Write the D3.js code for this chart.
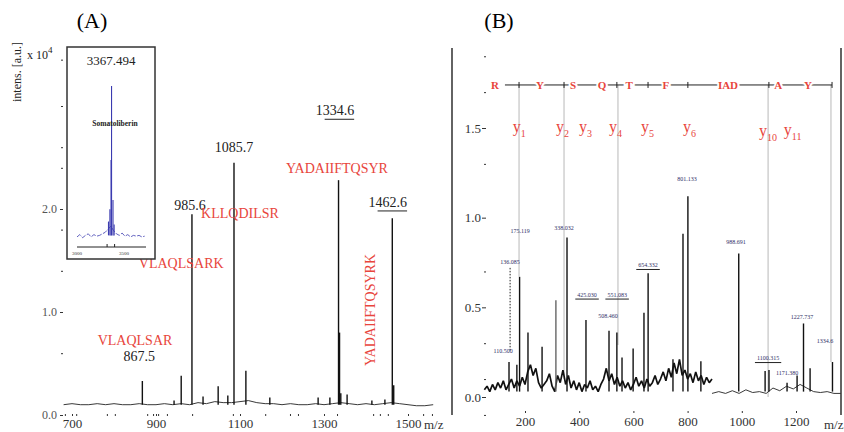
<!DOCTYPE html>
<html>
<head>
<meta charset="utf-8">
<script src="https://cdn.jsdelivr.net/npm/d3@7"></script>
<style>
  body { margin: 0; background: #fff; }
</style>
</head>
<body>
<div id="chart"></div>
<script>

// ---------- panel A data (intensity in x10^4 a.u.) ----------
const tickMzA = [700, 900, 1100, 1300, 1500];
const minorMzA = [683, 710, 783, 802, 879, 893, 905, 926, 986, 1083, 1160, 1219, 1238, 1331, 1417, 1433, 1452, 1536, 1557];
const tickIntA = [0, 1, 2];
const minorIntA = [0.6, 1.4, 1.8, 2.4, 2.6, 3.0, 3.45];

const baseMzA = d3.range(680, 1561, 20);
const baseIntA = [0.10, 0.11, 0.10, 0.10, 0.11, 0.10, 0.11, 0.10, 0.10, 0.11,
                  0.10, 0.10, 0.11, 0.10, 0.11, 0.10, 0.12, 0.11, 0.13, 0.12,
                  0.12, 0.13, 0.14, 0.12, 0.11, 0.11, 0.10, 0.11, 0.10, 0.10,
                  0.11, 0.10, 0.11, 0.12, 0.11, 0.10, 0.11, 0.10, 0.11, 0.12,
                  0.11, 0.10, 0.09, 0.09, 0.10];

const peakMzA = [867.5, 943, 960, 985.6, 1012, 1048, 1071, 1085.7, 1114, 1171, 1286, 1314, 1334.6, 1337, 1340, 1355, 1414, 1445, 1462.6, 1466];
const peakIntA = [0.33, 0.14, 0.38, 1.95, 0.18, 0.28, 0.19, 2.45, 0.43, 0.17, 0.17, 0.17, 2.28, 0.80, 0.21, 0.20, 0.14, 0.15, 1.91, 0.29];

const massTextA = ["985.6", "1085.7", "1334.6", "1462.6", "867.5"];
const massMzA = [981, 1086, 1326, 1452, 860];
const massIntA = [1.99, 2.55, 2.91, 2.02, 0.52];
const massUnderlineA = [false, false, true, true, false];

const peptideTextA = ["KLLQDILSR", "VLAQLSARK", "VLAQLSAR", "YADAIIFTQSYR"];
const peptideMzA = [1100, 960, 850, 1331];
const peptideIntA = [1.91, 1.43, 0.68, 2.35];
const verticalPeptideA = { text: "YADAIIFTQSYRK", mz: 1421, int: 1.02 };

// inset: intact protein
const insetTickMz = [3000, 3500];
const insetMinorMz = [3320, 3400];
const insetNoiseMz = d3.range(3000, 3721, 30);
const insetNoiseInt = [0.02, 0.035, 0.015, 0.03, 0.04, 0.02, 0.035, 0.025, 0.03, 0.04,
                       0.05, 0.07, 0.09, 0.06, 0.04, 0.03, 0.045, 0.025, 0.035, 0.02,
                       0.03, 0.025, 0.03, 0.02, 0.025];
const insetPeakMz = [3335, 3350, 3362, 3367.5, 3383, 3395];
const insetPeakInt = [0.12, 0.2, 0.52, 1.0, 0.26, 0.1];

// ---------- panel B data (MS/MS of YADAIIFTQSYR) ----------
const tickMzB = [200, 400, 600, 800, 1000, 1200];
const tickIntB = [0, 0.5, 1.0, 1.5];
const minorIntB = [-0.1, 0.1, 0.3, 0.7, 1.3, 1.7, 1.9];

const noiseLeftMzB = d3.range(50, 891, 10);
const noiseLeftIntB = [0.04, 0.06, 0.03, 0.07, 0.04, 0.08, 0.05, 0.09, 0.04, 0.07,
                       0.10, 0.05, 0.09, 0.06, 0.11, 0.07, 0.14, 0.18, 0.12, 0.16,
                       0.08, 0.05, 0.07, 0.09, 0.13, 0.06, 0.03, 0.12, 0.08, 0.15,
                       0.07, 0.12, 0.05, 0.09, 0.04, 0.08, 0.03, 0.07, 0.05, 0.09,
                       0.04, 0.06, 0.03, 0.07, 0.10, 0.16, 0.09, 0.13, 0.07, 0.11,
                       0.06, 0.09, 0.05, 0.08, 0.04, 0.07, 0.11, 0.06, 0.09, 0.05,
                       0.10, 0.06, 0.08, 0.12, 0.07, 0.10, 0.14, 0.09, 0.16, 0.11,
                       0.19, 0.13, 0.21, 0.12, 0.15, 0.10, 0.13, 0.08, 0.14, 0.09,
                       0.12, 0.07, 0.11, 0.08, 0.10];
const noiseRightMzB = d3.range(890, 1366, 25);
const noiseRightIntB = [0.02, 0.03, 0.02, 0.035, 0.02, 0.04, 0.025, 0.03, 0.02, 0.05,
                        0.035, 0.06, 0.045, 0.07, 0.05, 0.03, 0.025, 0.03, 0.02, 0.02];

const peakMzB = [141, 170, 180, 211, 263, 355, 425, 510, 539, 558, 599, 639, 654.3, 746, 783, 801.1, 849, 988.7, 1086, 1100.3, 1167, 1204, 1227.7, 1252, 1334.6];
const peakIntB = [0.195, 0.18, 0.67, 0.36, 0.28, 0.89, 0.43, 0.37, 0.36, 0.22, 0.27, 0.47, 0.69, 0.21, 0.91, 1.12, 0.20, 0.80, 0.145, 0.15, 0.08, 0.12, 0.41, 0.16, 0.195];
const greyPeakMzB = [314];
const greyPeakIntB = [0.54];

// sequence ladder
const seqLetters = ["R", "Y", "S", "Q", "T", "F", "IAD", "A", "Y"];
const seqMz = [89, 255, 377, 484, 584, 720, 949, 1134, 1244];
const seqTickMz = [178, 344, 539, 654, 801, 1100, 1333];
const seqRange = [126, 1333];
const seqInt = 1.74;

// fragment guide lines: m/z and the intensity where they stop
const guideMz = [178, 344, 543, 1097, 1329];
const guideEndInt = [0.67, 0.10, 0.29, 0.0, 0.195];

// y-ion labels
const ionNames = ["1", "2", "3", "4", "5", "6", "10", "11"];
const ionMz = [170, 329, 414, 525, 643, 798, 1078, 1170];
const ionInt = [1.48, 1.48, 1.475, 1.48, 1.475, 1.48, 1.455, 1.46];

// small mass annotations
const annText = ["136.085", "110.500", "175.119", "338.032", "425.030", "551.083", "508.460", "654.332", "801.133", "988.691", "1100.315", "1171.380", "1227.737", "1334.6"];
const annMz = [145, 119, 182, 344, 429, 540, 506, 654, 798, 979, 1097, 1167, 1222, 1307];
const annInt = [0.74, 0.245, 0.915, 0.93, 0.56, 0.56, 0.44, 0.725, 1.205, 0.853, 0.206, 0.123, 0.435, 0.30];
const annUnderline = [false, false, false, false, true, true, false, true, false, false, true, false, false, false];
const dottedMz = 145;
const dottedInt = [0.72, 0.26];

// ---------- styles ----------
const serif = "'Liberation Serif', 'DejaVu Serif', serif";
const red = "#e8453c";

// svg container
const svg = d3.select("#chart")
    .append("svg")
    .attr("width", 844)
    .attr("height", 432)
    .style("font-family", serif);

// strip the axis line and restyle the ticks
function styleAxis(g, size, color) {
    g.select(".domain").remove();
    g.attr("font-family", serif).attr("font-size", size);
    g.selectAll(".tick line").attr("stroke", "#333");
    g.selectAll(".tick text").attr("fill", color);
}

// =================== panel A ===================
const xA = d3.scaleLinear().domain([700, 1500]).range([72, 408]);
const yA = d3.scaleLinear().domain([0, 3]).range([415, 106]);
const baseA = 0.1;

const gA = svg.append("g").attr("id", "panelA");

gA.append("text")
    .attr("x", 92).attr("y", 28)
    .attr("text-anchor", "middle")
    .attr("font-size", 22)
    .text("(A)");

// y axis
gA.append("g")
    .attr("transform", "translate(63,0)")
    .call(d3.axisLeft(yA).tickValues(tickIntA).tickFormat(d3.format(".1f")).tickSize(3).tickPadding(3))
    .call(styleAxis, 12, "#555");

gA.append("g")
    .attr("transform", "translate(63,0)")
    .call(d3.axisLeft(yA).tickValues(minorIntA).tickFormat("").tickSize(2))
    .call(styleAxis, 12, "#555");

// x axis
gA.append("g")
    .attr("transform", "translate(0,414)")
    .call(d3.axisBottom(xA).tickValues(tickMzA).tickFormat(d3.format("d")).tickSize(2).tickPadding(3))
    .call(styleAxis, 13, "#333");

gA.append("g")
    .attr("transform", "translate(0,414)")
    .call(d3.axisBottom(xA).tickValues(minorMzA).tickFormat("").tickSize(2))
    .call(styleAxis, 13, "#333");

gA.append("text")
    .attr("x", 424).attr("y", 429)
    .attr("font-size", 13)
    .attr("fill", "#333")
    .text("m/z");

// axis title
gA.append("text")
    .attr("transform", "translate(21,72) rotate(-90)")
    .attr("text-anchor", "middle")
    .attr("font-size", 12)
    .attr("fill", "#222")
    .text("intens. [a.u.]");

const expo = gA.append("text")
    .attr("x", 27).attr("y", 59)
    .attr("font-size", 12)
    .attr("fill", "#222")
    .text("x 10");
expo.append("tspan").attr("dy", -6).attr("font-size", 9).text("4");

// baseline
gA.append("path")
    .datum(d3.zip(baseMzA, baseIntA))
    .attr("fill", "none")
    .attr("stroke", "#222")
    .attr("stroke-width", 0.9)
    .attr("d", d3.line().x(d => xA(d[0])).y(d => yA(d[1])));

// peaks
gA.selectAll(".peakA")
    .data(d3.zip(peakMzA, peakIntA))
    .join("line")
    .attr("class", "peakA")
    .attr("x1", d => xA(d[0])).attr("x2", d => xA(d[0]))
    .attr("y1", yA(baseA)).attr("y2", d => yA(d[1]))
    .attr("stroke", "#111")
    .attr("stroke-width", 1.4);

// mass labels
gA.selectAll(".massA")
    .data(d3.zip(massTextA, massMzA, massIntA, massUnderlineA))
    .join("text")
    .attr("class", "massA")
    .attr("x", d => xA(d[1])).attr("y", d => yA(d[2]))
    .attr("text-anchor", "middle")
    .attr("font-size", 14)
    .attr("fill", "#222")
    .text(d => d[0])
    .each(function(d) {
        if (!d[3]) return;
        const b = this.getBBox();
        gA.append("line")
            .attr("x1", b.x + 9).attr("x2", b.x + b.width)
            .attr("y1", b.y + b.height + 1).attr("y2", b.y + b.height + 1)
            .attr("stroke", "#222").attr("stroke-width", 1);
    });

// peptide labels
gA.selectAll(".pepA")
    .data(d3.zip(peptideTextA, peptideMzA, peptideIntA))
    .join("text")
    .attr("class", "pepA")
    .attr("x", d => xA(d[1])).attr("y", d => yA(d[2]))
    .attr("text-anchor", "middle")
    .attr("font-size", 14)
    .attr("fill", red)
    .text(d => d[0]);

gA.append("text")
    .attr("transform", `translate(${xA(verticalPeptideA.mz)},${yA(verticalPeptideA.int)}) rotate(-90)`)
    .attr("text-anchor", "middle")
    .attr("font-size", 14)
    .attr("fill", red)
    .text(verticalPeptideA.text);

// inset
const xI = d3.scaleLinear().domain([3000, 3500]).range([77, 124]);
const yI = d3.scaleLinear().domain([0, 1]).range([240, 86]);
const gI = gA.append("g").attr("id", "inset");

gI.append("rect")
    .attr("x", 67).attr("y", 47)
    .attr("width", 88).attr("height", 212)
    .attr("fill", "#fff")
    .attr("stroke", "#333")
    .attr("stroke-width", 1.5);

gI.append("line")
    .attr("x1", 77).attr("x2", 146)
    .attr("y1", 247).attr("y2", 247)
    .attr("stroke", "#222");

gI.selectAll(".itick")
    .data(insetMinorMz)
    .join("line")
    .attr("x1", d => xI(d)).attr("x2", d => xI(d))
    .attr("y1", 244).attr("y2", 247)
    .attr("stroke", "#222");

gI.selectAll(".ilab")
    .data(insetTickMz)
    .join("text")
    .attr("x", d => xI(d)).attr("y", 255)
    .attr("text-anchor", "middle")
    .attr("font-size", 5)
    .attr("fill", "#333")
    .text(d => d);

gI.append("path")
    .datum(d3.zip(insetNoiseMz, insetNoiseInt))
    .attr("fill", "none")
    .attr("stroke", "#3b3bb0")
    .attr("stroke-width", 0.8)
    .attr("stroke-dasharray", "5,1.5")
    .attr("d", d3.line().x(d => xI(d[0])).y(d => yI(d[1])));

gI.selectAll(".ipeak")
    .data(d3.zip(insetPeakMz, insetPeakInt))
    .join("line")
    .attr("x1", d => xI(d[0])).attr("x2", d => xI(d[0]))
    .attr("y1", yI(0.03)).attr("y2", d => yI(d[1]))
    .attr("stroke", "#3b3bb0")
    .attr("stroke-width", 1.1);

gI.append("text")
    .attr("x", 111).attr("y", 65)
    .attr("text-anchor", "middle")
    .attr("font-size", 13)
    .attr("fill", "#222")
    .text("3367.494");

gI.append("text")
    .attr("x", 115).attr("y", 126)
    .attr("text-anchor", "middle")
    .attr("font-size", 7.5)
    .attr("font-weight", "bold")
    .attr("fill", "#222")
    .text("Somatoliberin");

// =================== panel B ===================
const xB = d3.scaleLinear().domain([200, 1200]).range([525, 796]);
const yB = d3.scaleLinear().domain([0, 1.5]).range([397, 128]);
const baseB = 0.03;

const gB = svg.append("g").attr("id", "panelB");

gB.append("text")
    .attr("x", 499).attr("y", 28)
    .attr("text-anchor", "middle")
    .attr("font-size", 22)
    .text("(B)");

// frame sides
gB.selectAll(".side")
    .data([452, 841])
    .join("line")
    .attr("x1", d => d).attr("x2", d => d)
    .attr("y1", 48).attr("y2", 415)
    .attr("stroke", "#222")
    .attr("stroke-width", 1.4);

// y axis
gB.append("g")
    .attr("transform", "translate(486,0)")
    .call(d3.axisLeft(yB).tickValues(tickIntB).tickFormat(d3.format(".1f")).tickSize(4).tickPadding(1))
    .call(styleAxis, 13, "#333");

gB.append("g")
    .attr("transform", "translate(486,0)")
    .call(d3.axisLeft(yB).tickValues(minorIntB).tickFormat("").tickSize(2))
    .call(styleAxis, 13, "#333");

// x axis
gB.append("g")
    .attr("transform", "translate(0,411)")
    .call(d3.axisBottom(xB).tickValues(tickMzB).tickFormat(d3.format("d")).tickSize(2).tickPadding(4))
    .call(styleAxis, 13, "#333");

gB.append("text")
    .attr("x", 824).attr("y", 429)
    .attr("font-size", 13)
    .attr("fill", "#333")
    .text("m/z");

// fragment guide lines
gB.selectAll(".guide")
    .data(d3.zip(guideMz, guideEndInt))
    .join("line")
    .attr("x1", d => xB(d[0])).attr("x2", d => xB(d[0]))
    .attr("y1", yB(seqInt)).attr("y2", d => yB(d[1]))
    .attr("stroke", "#c4c4c4")
    .attr("stroke-width", 1.2);

// noisy baseline as a heavy jagged trace
const lineB = d3.line().x(d => xB(d[0])).y(d => yB(d[1]));
gB.append("path")
    .datum(d3.zip(noiseLeftMzB, noiseLeftIntB))
    .attr("fill", "none")
    .attr("stroke", "#111")
    .attr("stroke-width", 1.7)
    .attr("stroke-linejoin", "bevel")
    .attr("d", lineB);

gB.append("path")
    .datum(d3.zip(noiseRightMzB, noiseRightIntB))
    .attr("fill", "none")
    .attr("stroke", "#222")
    .attr("stroke-width", 0.9)
    .attr("d", lineB);

// peaks
gB.selectAll(".greyPeak")
    .data(d3.zip(greyPeakMzB, greyPeakIntB))
    .join("line")
    .attr("x1", d => xB(d[0])).attr("x2", d => xB(d[0]))
    .attr("y1", yB(baseB)).attr("y2", d => yB(d[1]))
    .attr("stroke", "#666")
    .attr("stroke-width", 1.4);

gB.selectAll(".peakB")
    .data(d3.zip(peakMzB, peakIntB))
    .join("line")
    .attr("class", "peakB")
    .attr("x1", d => xB(d[0])).attr("x2", d => xB(d[0]))
    .attr("y1", yB(baseB)).attr("y2", d => yB(d[1]))
    .attr("stroke", "#111")
    .attr("stroke-width", 1.4);

// dotted connector for the immonium ion
gB.append("line")
    .attr("x1", xB(dottedMz)).attr("x2", xB(dottedMz))
    .attr("y1", yB(dottedInt[0])).attr("y2", yB(dottedInt[1]))
    .attr("stroke", "#222")
    .attr("stroke-dasharray", "1.5,1.5");

// small mass labels
gB.selectAll(".ann")
    .data(d3.zip(annText, annMz, annInt, annUnderline))
    .join("text")
    .attr("class", "ann")
    .attr("x", d => xB(d[1])).attr("y", d => yB(d[2]))
    .attr("text-anchor", "middle")
    .attr("font-size", 6)
    .attr("fill", "#2e2e66")
    .text(d => d[0])
    .each(function(d) {
        if (!d[3]) return;
        const b = this.getBBox();
        gB.append("line")
            .attr("x1", b.x - 2).attr("x2", b.x + b.width + 2)
            .attr("y1", b.y + b.height + 1.5).attr("y2", b.y + b.height + 1.5)
            .attr("stroke", "#222").attr("stroke-width", 1);
    });

// sequence ladder
gB.append("line")
    .attr("x1", xB(seqRange[0])).attr("x2", xB(seqRange[1]))
    .attr("y1", yB(seqInt)).attr("y2", yB(seqInt))
    .attr("stroke", "#222")
    .attr("stroke-width", 1);

gB.selectAll(".seqTick")
    .data(seqTickMz)
    .join("line")
    .attr("x1", d => xB(d)).attr("x2", d => xB(d))
    .attr("y1", yB(seqInt) - 3).attr("y2", yB(seqInt) + 3)
    .attr("stroke", "#222");

gB.selectAll(".seq")
    .data(d3.zip(seqLetters, seqMz))
    .join("text")
    .attr("x", d => xB(d[1])).attr("y", yB(seqInt) + 4)
    .attr("text-anchor", "middle")
    .attr("font-size", 11)
    .attr("font-weight", "bold")
    .attr("fill", red)
    .attr("stroke", "#fff")
    .attr("stroke-width", 4)
    .attr("paint-order", "stroke")
    .text(d => d[0]);

// y ion labels
gB.selectAll(".ion")
    .data(d3.zip(ionNames, ionMz, ionInt))
    .join("text")
    .attr("x", d => xB(d[1]) - 4).attr("y", d => yB(d[2]))
    .attr("font-size", 16)
    .attr("fill", red)
    .text("y")
    .append("tspan")
    .attr("dy", 5)
    .attr("font-size", 10)
    .text(d => d[0]);

</script>
</body>
</html>
